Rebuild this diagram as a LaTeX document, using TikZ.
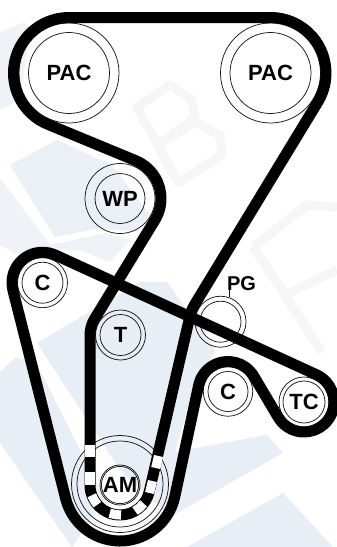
\documentclass[tikz,border=0pt]{standalone}
\usepackage{fontspec}
\setmainfont{Liberation Sans}
\usetikzlibrary{calc}
\definecolor{wmblue}{HTML}{E8EEF5}
\definecolor{wmgray}{HTML}{F6F6F6}
\makeatletter
\newcommand\defp[3]{\expandafter\def\csname px#1\endcsname{#2}\expandafter\def\csname py#1\endcsname{#3}}
\newcommand\PX[1]{\csname px#1\endcsname}
\newcommand\PY[1]{\csname py#1\endcsname}
% tangent angle between pulleys A (radius ra) and B (radius rb); signed radii
\newcommand\tng[5]{%
  \pgfmathsetmacro\dxx{\PX{#4}-\PX{#2}}%
  \pgfmathsetmacro\dyy{\PY{#4}-\PY{#2}}%
  \pgfmathsetmacro#1{atan2(\dyy,\dxx)+acos(((#3)-(#5))/veclen(\dxx,\dyy))}}
% append the wrap of a pulley to path macro #1
\newcommand\wrapon[5]{% path, pulley, r, in, out
  \pgfmathsetmacro\sx{\PX{#2}+(#3)*cos(#4)}%
  \pgfmathsetmacro\sy{\PY{#2}+(#3)*sin(#4)}%
  \pgfmathparse{(#3)>0?1:0}%
  \ifdim\pgfmathresult pt>0.5pt
    \pgfmathsetmacro\sa{#4}%
    \pgfmathsetmacro\da{-Mod((#4)-(#5),360)}%
    \pgfmathsetmacro\ra{#3}%
  \else
    \pgfmathsetmacro\sa{(#4)+180}%
    \pgfmathsetmacro\da{Mod((#5)-(#4),360)}%
    \pgfmathsetmacro\ra{-(#3)}%
  \fi
  \ifx#1\empty
    \edef#1{(\sx,\sy) arc[start angle=\sa,delta angle=\da,radius=\ra]}%
  \else
    \edef#1{#1 -- (\sx,\sy) arc[start angle=\sa,delta angle=\da,radius=\ra]}%
  \fi}
\makeatother
\defp{PA}{69}{73}\defp{PB}{270.5}{73}\defp{WP}{120}{198.5}\defp{CA}{42.5}{282.7}
\defp{TT}{120.5}{335}\defp{PG}{220.5}{321.7}\defp{CB}{228}{391.5}\defp{TC}{304}{402}\defp{AM}{120}{485}
% long belt
\tng\ta{AM}{30}{PG}{-31}\tng\tb{PG}{-31}{PB}{55.5}\tng\tc{PB}{55.5}{PA}{55.5}
\tng\td{PA}{55.5}{WP}{-41}\tng\te{WP}{-41}{TT}{30.5}\tng\tf{TT}{30.5}{AM}{30}
\def\beltone{}
\wrapon\beltone{PG}{-31}{\ta}{\tb}\wrapon\beltone{PB}{55.5}{\tb}{\tc}\wrapon\beltone{PA}{55.5}{\tc}{\td}
\wrapon\beltone{WP}{-41}{\td}{\te}\wrapon\beltone{TT}{30.5}{\te}{\tf}\wrapon\beltone{AM}{30}{\tf}{\ta}
% short belt
\tng\tg{CA}{-30.5}{TC}{-30}\tng\tH{TC}{-30}{CB}{30}\tng\ti{CB}{30}{AM}{-56}\tng\tj{AM}{-56}{CA}{-30.5}
\def\belttwo{}
\wrapon\belttwo{TC}{-30}{\tg}{\tH}\wrapon\belttwo{CB}{30}{\tH}{\ti}\wrapon\belttwo{AM}{-56}{\ti}{\tj}\wrapon\belttwo{CA}{-30.5}{\tj}{\tg}
\tikzset{
  pulley/.style={circle,draw=black!90,line width=0.75pt,fill=none,inner sep=0pt,minimum size=#1},
  ptext/.style={font=\bfseries\fontsize{22}{26}\selectfont,inner sep=0pt,text=black},
  belt/.style={draw=black,line width=11pt,line join=round},
  tooth/.style={draw=white,line width=9.2pt},
  wmstroke/.style={draw=wmgray,line width=9pt,line join=round}
}
\begin{document}
\begin{tikzpicture}[x=1pt,y=1pt,yscale=-1]
\useasboundingbox (0,0) rectangle (337,547);
\fill[white] (0,0) rectangle (337,547);
% watermark
\fill[wmblue!70!white] (0,32) -- (25,22) -- (30,30) -- (20,100) -- (0,110) -- cycle;
\fill[wmblue!85!white] (10,165) -- (57,140) -- (112,165) -- (150,215) -- (135,232) -- (100,228) -- (55,237) -- cycle;
\fill[wmblue!70!white] (0,178) -- (50,245) -- (105,233) -- (130,240) -- (110,262) -- (80,250) -- (60,250) -- (20,255) -- (0,245) -- cycle;
\fill[wmblue] (0,372) -- (15,358) -- (35,360) -- (105,500) -- (72,547) -- (0,443) -- cycle;
\fill[wmblue] (37,343) -- (140,282) -- (167,282) -- (215,350) -- (190,400) -- (175,452) -- (267,435) -- (283,453) -- (170,517) -- (120,470) -- cycle;
\fill[wmblue] (187,547) -- (283,493) -- (333,547) -- cycle;
\draw[wmstroke] (137,107) -- (170,85) -- (192,100) -- (195,118) -- (160,143) -- (195,122) -- (220,135) -- (222,155) -- (178,183) -- cycle;
\draw[wmstroke] (253,247) -- (307,205) -- (337,207);
\draw[wmstroke] (253,247) -- (285,295) -- (337,270);
\draw[wmstroke] (285,295) -- (322,352);
% pulleys
\foreach \nm/\lab/\pk/\ro/\ri in {pacl/PAC/PA/100/81,pacr/PAC/PB/100/81,wp/WP/WP/70/50,cl/C/CA/50/41,tens/T/TT/50/41,cr/C/CB/49.5/40,tc/TC/TC/50/42,am/AM/AM/40/36}{
  \node[pulley=\ro pt] (\nm) at (\PX{\pk},\PY{\pk}) {};
  \node[pulley=\ri pt,ptext] (\nm i) at (\PX{\pk},\PY{\pk}) {\lab};
}
\node[pulley=97pt] (amo) at (120,484) {};
\node[pulley=86pt] (ammid) at (120,484) {};
\node[pulley=51pt] (pg) at (\PX{PG},\PY{PG}) {};
\node[pulley=41pt] (pgi) at (\PX{PG},\PY{PG}) {};
\node[ptext,font=\bfseries\fontsize{20}{24}\selectfont,anchor=base] (pgl) at (241.5,290) {PG};
\draw[line width=0.75pt,black!90] (pg.70) -- (pg.70 |- pgl.south);
% belts
\draw[belt] \beltone -- cycle;
\draw[belt] \belttwo -- cycle;
% teeth
\draw[tooth] (90,445) -- (90,457);
\draw[tooth] (90,472) -- (90,485);
\draw[tooth] (am.center) ++(160:30) arc[start angle=160,end angle=139,radius=30];
\draw[tooth] (am.center) ++(110:30) arc[start angle=110,end angle=88,radius=30];
\draw[tooth] (am.center) ++(60:30) arc[start angle=60,end angle=38,radius=30];
\draw[tooth] (155.7,468) -- (158.5,456);
\draw[tooth] (149.6,493) -- (152.4,481);
\end{tikzpicture}
\end{document}
